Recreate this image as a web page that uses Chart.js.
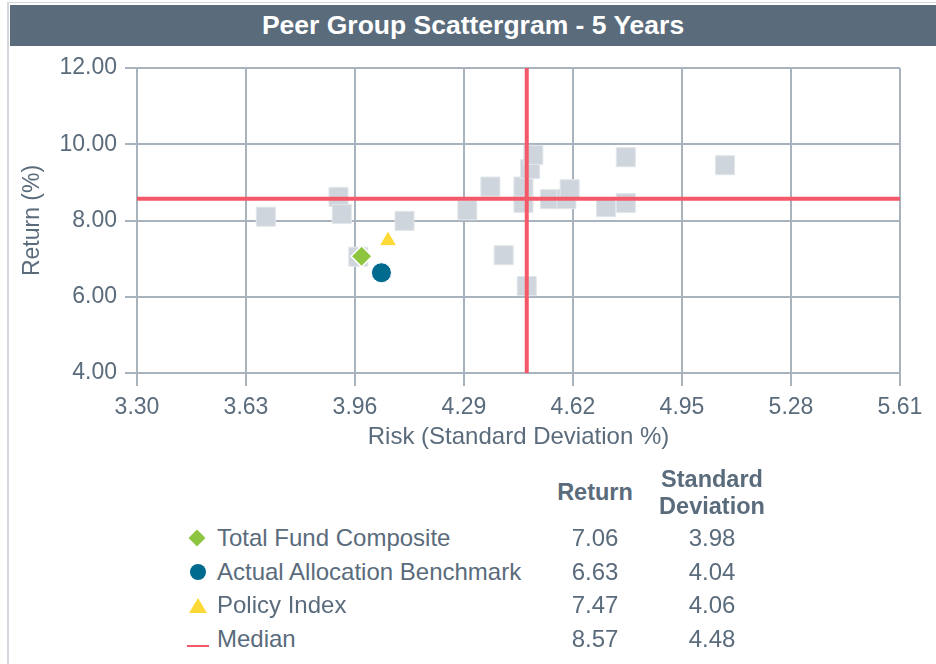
<!DOCTYPE html>
<html>
<head>
<meta charset="utf-8">
<script src="https://cdn.jsdelivr.net/npm/chart.js@4.4.0/dist/chart.umd.min.js"></script>
<style>
  body { margin: 0; background: #fff; font-family: "Liberation Sans", Arial, sans-serif; color: #5a6b7c; }
  #wrap { position: relative; width: 936px; height: 664px; overflow: hidden; }
  #edge { position: absolute; left: 7px; top: 2px; width: 2px; height: 662px; background: #d3d8de; }
  #topline { position: absolute; left: 7px; top: 2px; width: 929px; height: 1px; background: #d3d8de; }
  #title { position: absolute; left: 10px; top: 5px; width: 926px; height: 41px; background: #5a6b7c;
    color: #fff; font-weight: bold; font-size: 26.5px; line-height: 41px; text-align: center; }
  #myChart { position: absolute; left: 0; top: 0; }
  .cell { position: absolute; white-space: nowrap; font-size: 24px; line-height: 34px; }
  .head { font-weight: bold; text-align: center; line-height: 27px; font-size: 23.5px; }
  .num { text-align: center; }
  .ico { position: absolute; }
</style>
</head>
<body>
<div id="wrap">
  <canvas id="myChart" width="936" height="470"></canvas>
  <div id="edge"></div>
  <div id="topline"></div>
  <div id="title">Peer Group Scattergram - 5 Years</div>
  <div id="table"></div>
</div>
<script>
// axis ticks
let xTicks = [3.30, 3.63, 3.96, 4.29, 4.62, 4.95, 5.28, 5.61];
let yTicks = [4, 6, 8, 10, 12];

// peer group universe (risk, return)
let peerRisk = [3.69, 3.91, 3.92, 3.97, 4.11, 4.30, 4.37, 4.41, 4.47, 4.47,
                4.49, 4.50, 4.48, 4.55, 4.60, 4.61, 4.72, 4.78, 4.78, 5.08];
let peerReturn = [8.10, 8.62, 8.17, 7.05, 7.99, 8.27, 8.89, 7.09, 8.46, 8.89,
                  9.35, 9.72, 6.28, 8.56, 8.56, 8.82, 8.35, 8.46, 9.66, 9.45];

// portfolio + benchmarks + median
let names = ["Total Fund Composite", "Actual Allocation Benchmark", "Policy Index", "Median"];
let returns = [7.06, 6.63, 7.47, 8.57];
let stdevs = [3.98, 4.04, 4.06, 4.48];
let colors = ["#8dc540", "#006a8f", "#fcd937", "#f4596a"];

let gridColor = "#a9b3bd";
let textColor = "#5a6b7c";
let medianColor = colors[3];

function pts(xs, ys) {
  let out = [];
  for (let i = 0; i < xs.length; i++) out.push({ x: xs[i], y: ys[i] });
  return out;
}

let xMin = xTicks[0], xMax = xTicks[xTicks.length - 1];
let yMin = yTicks[0], yMax = yTicks[yTicks.length - 1];

let ctx = document.getElementById("myChart").getContext("2d");

var chart = new Chart(ctx, {
  type: "scatter",
  data: {
    datasets: [
      {
        label: "Peer Group",
        data: pts(peerRisk, peerReturn),
        pointStyle: "rect",
        pointRadius: 13.5,
        backgroundColor: "#cfd5dc",
        borderColor: "#e3e7eb",
        borderWidth: 1,
        order: 3,
      },
      {
        label: "Median Return",
        data: [{ x: xMin, y: returns[3] }, { x: xMax, y: returns[3] }],
        showLine: true,
        borderColor: medianColor,
        borderWidth: 4,
        pointRadius: 0,
        order: 2,
      },
      {
        label: "Median Risk",
        data: [{ x: stdevs[3], y: yMin }, { x: stdevs[3], y: yMax }],
        showLine: true,
        borderColor: medianColor,
        borderWidth: 4,
        pointRadius: 0,
        order: 2,
      },
      {
        label: names[0],
        data: [{ x: stdevs[0], y: returns[0] }],
        pointStyle: "rectRot",
        pointRadius: 10.5,
        backgroundColor: colors[0],
        borderColor: "#fff",
        borderWidth: 1.5,
        order: 1,
      },
      {
        label: names[1],
        data: [{ x: stdevs[1], y: returns[1] }],
        pointStyle: "circle",
        pointRadius: 10,
        backgroundColor: colors[1],
        borderColor: "#fff",
        borderWidth: 1,
        order: 1,
      },
      {
        label: names[2],
        data: [{ x: stdevs[2], y: returns[2] }],
        pointStyle: "triangle",
        pointRadius: 10,
        backgroundColor: colors[2],
        borderColor: "#fff",
        borderWidth: 1,
        order: 1,
      },
    ],
  },
  options: {
    responsive: false,
    animation: false,
    layout: { padding: { top: 68, right: 36, left: 0, bottom: 0 } },
    plugins: {
      legend: { display: false },
      tooltip: { enabled: false },
    },
    scales: {
      x: {
        type: "linear",
        min: xMin,
        max: xMax,
        afterBuildTicks: (s) => { s.ticks = xTicks.map((v) => ({ value: v })); },
        afterFit: (s) => { s.height = 97; },
        grid: { color: gridColor, lineWidth: 2, tickLength: 13 },
        border: { color: gridColor, width: 2 },
        ticks: {
          color: textColor,
          font: { family: "Liberation Sans", size: 23 },
          padding: 8,
          maxRotation: 0,
          callback: (v) => Number(v).toFixed(2),
        },
        title: {
          display: true,
          text: "Risk (Standard Deviation %)",
          color: textColor,
          font: { family: "Liberation Sans", size: 24 },
          padding: { top: 4, bottom: 18 },
        },
      },
      y: {
        type: "linear",
        min: yMin,
        max: yMax,
        afterBuildTicks: (s) => { s.ticks = yTicks.map((v) => ({ value: v })); },
        afterFit: (s) => { s.width = 137; },
        grid: { color: gridColor, lineWidth: 2, tickLength: 12 },
        border: { color: gridColor, width: 2 },
        ticks: {
          color: textColor,
          font: { family: "Liberation Sans", size: 23 },
          padding: 8,
          callback: (v) => Number(v).toFixed(2),
        },
        title: {
          display: true,
          text: "Return (%)",
          color: textColor,
          font: { family: "Liberation Sans", size: 23 },
          padding: { top: 19, bottom: 4 },
        },
      },
    },
  },
});

// legend table under the chart
function addCell(cls, text, left, top, width) {
  let d = document.createElement("div");
  d.className = "cell " + cls;
  d.innerHTML = text;
  d.style.left = left + "px";
  d.style.top = top + "px";
  if (width) d.style.width = width + "px";
  document.getElementById("table").appendChild(d);
  return d;
}

addCell("head", "Return", 545, 479, 100);
addCell("head", "Standard<br>Deviation", 652, 466, 120);

let rowTop = [521, 555, 588, 622];
for (let i = 0; i < names.length; i++) {
  addCell("", names[i], 217, rowTop[i]);
  addCell("num", returns[i].toFixed(2), 555, rowTop[i], 80);
  addCell("num", stdevs[i].toFixed(2), 662, rowTop[i], 100);

  let ico = document.createElement("div");
  ico.className = "ico";
  let cy = rowTop[i] + 17;
  if (i == 0) {
    ico.style.cssText = "left:191px;top:" + (cy - 6) + "px;width:12px;height:12px;background:" + colors[0] + ";transform:rotate(45deg);";
  } else if (i == 1) {
    ico.style.cssText = "left:190px;top:" + (cy - 8) + "px;width:16px;height:16px;border-radius:50%;background:" + colors[1] + ";";
  } else if (i == 2) {
    ico.style.cssText = "left:189px;top:" + (cy - 7) + "px;width:0;height:0;border-left:9px solid transparent;border-right:9px solid transparent;border-bottom:15px solid " + colors[2] + ";";
  } else {
    ico.style.cssText = "left:187px;top:" + (cy + 6) + "px;width:22px;height:2px;background:" + colors[3] + ";";
  }
  document.getElementById("table").appendChild(ico);
}
</script>
</body>
</html>
